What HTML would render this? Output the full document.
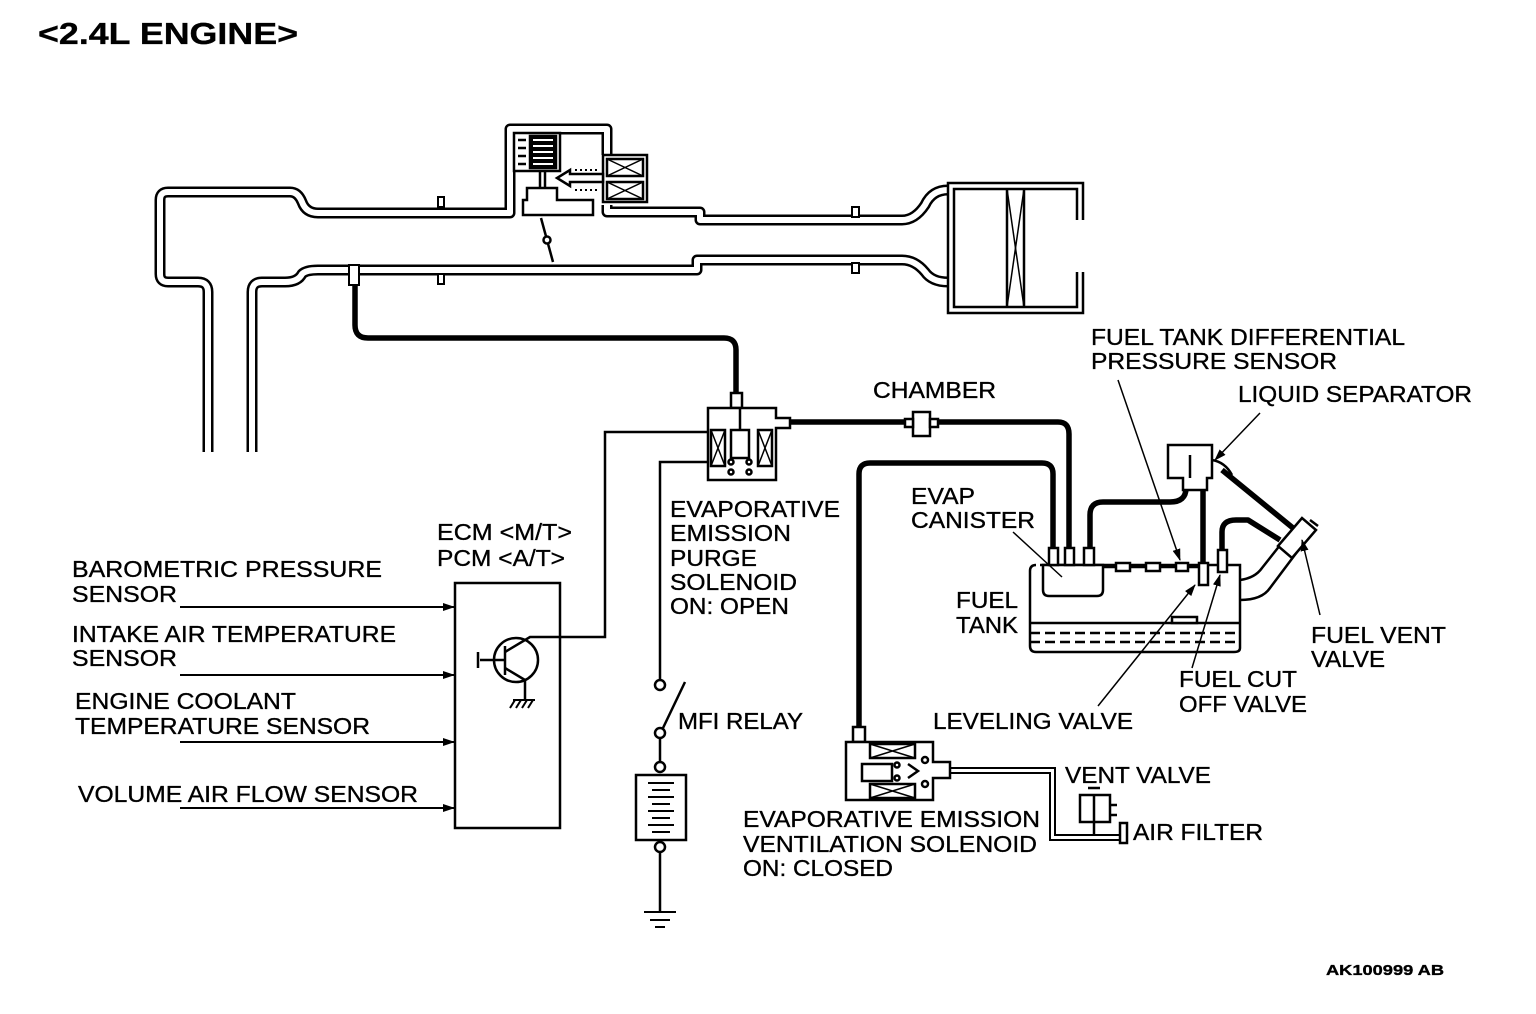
<!DOCTYPE html>
<html><head><meta charset="utf-8"><style>
html,body{margin:0;padding:0;background:#fff;}
svg{display:block;}
text{font-family:"Liberation Sans",Arial,sans-serif;font-size:23.5px;fill:#000;stroke:#000;stroke-width:0.35;}
</style></head><body>
<svg width="1536" height="1014" viewBox="0 0 1536 1014" xmlns="http://www.w3.org/2000/svg">
<defs>
<marker id="ah" markerWidth="12" markerHeight="8" refX="11" refY="4" orient="auto" markerUnits="userSpaceOnUse">
<path d="M0,0 L12,4 L0,8 z" fill="#000"/></marker>
</defs>
<text x="38" y="44" textLength="260" lengthAdjust="spacingAndGlyphs" style="font-size:31px;font-weight:bold">&lt;2.4L ENGINE&gt;</text>

<g fill="none" stroke-linejoin="round">
<g stroke="#000" stroke-width="11">
<path d="M208,452 L208,292 Q208,282 198,282 L168,282 Q160,282 160,274 L160,200 Q160,192 168,192 L290,192 Q298,192 302,202 Q306,213 318,213 L510,213 L510,129 L607,129 L607,155"/>
<path d="M607,205 L607,212 L700,212 L700,220 L902,220 Q915,220 925,205 Q932,190 948,190"/>
<path d="M252,452 L252,292 Q252,282 262,282 L285,282 Q298,282 302,274 Q306,270 318,270 L697,270 L697,260 L902,260 Q915,260 925,272 Q932,282 948,282"/>
</g>
<g stroke="#fff" stroke-width="6">
<path d="M208,452 L208,292 Q208,282 198,282 L168,282 Q160,282 160,274 L160,200 Q160,192 168,192 L290,192 Q298,192 302,202 Q306,213 318,213 L510,213 L510,129 L607,129 L607,155"/>
<path d="M607,205 L607,212 L700,212 L700,220 L902,220 Q915,220 925,205 Q932,190 948,190"/>
<path d="M252,452 L252,292 Q252,282 262,282 L285,282 Q298,282 302,274 Q306,270 318,270 L697,270 L697,260 L902,260 Q915,260 925,272 Q932,282 948,282"/>
</g>
</g>
<g stroke="#000" stroke-width="2" fill="#fff">
<rect x="438" y="197" width="6" height="10"/><rect x="438" y="274" width="6" height="10"/>
<rect x="852" y="207" width="7" height="10"/><rect x="852" y="263" width="7" height="10"/>
<rect x="349" y="265" width="10" height="20"/>
</g>
<g fill="none" stroke="#000" stroke-width="2.5">
<path d="M1083,220 L1083,183 L948,183 L948,313 L1083,313 L1083,272"/>
<path d="M1077,220 L1077,189 L954,189 L954,307 L1077,307 L1077,272"/>
<line x1="1007" y1="189" x2="1007" y2="307"/><line x1="1024" y1="189" x2="1024" y2="307"/>
<line x1="1007" y1="189" x2="1024" y2="307" stroke-width="1.5"/><line x1="1024" y1="189" x2="1007" y2="307" stroke-width="1.5"/>
</g>
<g stroke="#000" stroke-width="2.5" fill="#fff">
<rect x="514" y="133" width="46" height="38"/>
<path d="M530,136 L556,136 L556,168 L530,168 z" fill="#000"/>
<path d="M533,140 h20 M533,146 h20 M533,152 h20 M533,158 h20 M533,164 h20" stroke="#fff" stroke-width="2"/>
<line x1="518" y1="140" x2="526" y2="140"/><line x1="518" y1="148" x2="526" y2="148"/><line x1="518" y1="156" x2="526" y2="156"/><line x1="518" y1="164" x2="526" y2="164"/>
<line x1="540" y1="171" x2="540" y2="188"/><line x1="545" y1="171" x2="545" y2="188"/>
<path d="M527,188 L557,188 L557,200 L593,200 L593,215 L523,215 L523,200 L527,200 z"/>
<rect x="603" y="155" width="44" height="47"/>
<rect x="607" y="159" width="36" height="17"/><rect x="607" y="182" width="36" height="17"/>
<path d="M607,159 L643,176 M643,159 L607,176 M607,182 L643,199 M643,182 L607,199" stroke-width="1.5"/>
<path d="M603,174 L570,174 L570,170 L557,178 L570,186 L570,182 L603,182 z"/>
<line x1="541" y1="218" x2="553" y2="262"/>
<circle cx="547" cy="240" r="3.5"/>
</g>
<path d="M575,170 h25 M575,190 h25" stroke="#000" stroke-width="2" stroke-dasharray="2,3"/>

<g fill="none" stroke="#000" stroke-width="5.5" stroke-linejoin="round">
<path d="M355,285 L355,325 Q355,338 368,338 L724,338 Q736,338 736,350 L736,396"/>
<path d="M790,422 L905,422"/>
<path d="M935,422 L1058,422 Q1069,422 1069,434 L1069,548"/>
<path d="M1053,548 L1053,474 Q1053,463 1042,463 L870,463 Q859,463 859,474 L859,727"/>
<path d="M1090,548 L1090,515 Q1090,502 1103,502 L1170,502 Q1186,502 1186,488"/>
<path d="M1203,488 L1203,565"/>
<path d="M1222,552 L1222,532 Q1222,520 1236,520 L1248,520 L1280,540"/>
<path d="M1222,470 L1293,528"/>
</g>
<g stroke="#000" stroke-width="2.5" fill="#fff">
<rect x="731" y="393" width="11" height="15"/>
<path d="M708,408 L776,408 L776,418 L790,418 L790,428 L776,428 L776,480 L708,480 z"/>
<rect x="711" y="430" width="14" height="36"/><rect x="758" y="430" width="14" height="36"/>
<path d="M711,430 L725,466 M725,430 L711,466 M758,430 L772,466 M772,430 L758,466" stroke-width="1.5"/>
<rect x="731" y="430" width="18" height="28"/>
<line x1="740" y1="408" x2="740" y2="430"/>
<circle cx="731" cy="462" r="2.5"/><circle cx="749" cy="462" r="2.5"/><circle cx="731" cy="472" r="2.5"/><circle cx="749" cy="472" r="2.5"/>
<rect x="913" y="412" width="17" height="24"/><rect x="905" y="419" width="8" height="8"/><rect x="930" y="419" width="8" height="8"/>
</g>
<g fill="none" stroke="#000" stroke-width="2.5">
<rect x="455" y="583" width="105" height="245"/>
<circle cx="516" cy="660" r="22"/>
<line x1="505" y1="646" x2="505" y2="675"/><line x1="480" y1="660" x2="505" y2="660"/>
<line x1="478" y1="652" x2="478" y2="668"/>
<path d="M505,652 L530,637 L605,637 L605,432 L708,432"/>
<path d="M505,668 L525,680 L525,700"/>
<path d="M513,700 h22 M515,700 l-5,8 M521,700 l-5,8 M527,700 l-5,8 M533,700 l-5,8" stroke-width="2"/>
<path d="M708,462 L660,462 L660,680"/>
<circle cx="660" cy="685" r="5"/>
<line x1="663" y1="728" x2="685" y2="682"/>
<circle cx="660" cy="733" r="5"/>
<line x1="660" y1="738" x2="660" y2="762"/>
<circle cx="660" cy="767" r="5"/>
<rect x="636" y="775" width="50" height="65"/>
<path d="M648,783 h26 M652,790 h18 M648,797 h26 M652,804 h18 M648,811 h26 M652,818 h18 M648,825 h26 M652,832 h18" stroke-width="2"/>
<circle cx="660" cy="847" r="5"/>
<line x1="660" y1="852" x2="660" y2="912"/>
<path d="M644,912 h32 M650,920 h20 M655,927 h10" stroke-width="2"/>
</g>
<g stroke="#000" stroke-width="2" marker-end="url(#ah)">
<line x1="180" y1="607" x2="454" y2="607"/><line x1="180" y1="675" x2="454" y2="675"/>
<line x1="180" y1="742" x2="454" y2="742"/><line x1="180" y1="808" x2="454" y2="808"/>
</g>
<g fill="none" stroke="#000" stroke-width="2.5">
<path d="M1040,565 L1240,565 L1240,648 Q1240,652 1234,652 L1036,652 Q1030,652 1030,646 L1030,571 Q1030,565 1036,565"/>
<line x1="1030" y1="623" x2="1240" y2="623"/>
<line x1="1030" y1="633" x2="1240" y2="633" stroke-dasharray="10,5"/>
<line x1="1030" y1="642" x2="1240" y2="642" stroke-dasharray="10,5"/>
<rect x="1172" y="617" width="25" height="6" fill="#fff"/>
<path d="M1043,565 L1103,565 L1103,590 Q1103,596 1097,596 L1049,596 Q1043,596 1043,590 z" fill="#fff"/>
<rect x="1049" y="548" width="9" height="17" fill="#fff"/><rect x="1065" y="548" width="9" height="17" fill="#fff"/><rect x="1084" y="548" width="10" height="17" fill="#fff"/>
<line x1="1103" y1="567" x2="1200" y2="567"/>
<rect x="1116" y="563" width="14" height="8" fill="#fff"/><rect x="1146" y="563" width="14" height="8" fill="#fff"/><rect x="1176" y="563" width="12" height="8" fill="#fff"/>
<rect x="1199" y="563" width="9" height="22" fill="#fff"/><rect x="1218" y="550" width="9" height="22" fill="#fff"/>
<path d="M1168,445 L1212,445 L1212,478 L1207,478 L1207,490 L1183,490 L1183,478 L1168,478 z" fill="#fff"/>
<line x1="1190" y1="455" x2="1190" y2="478"/>
<path d="M1212,460 Q1225,462 1232,475"/>
<path d="M1240,580 Q1255,578 1262,568 L1292,530 M1240,600 Q1262,600 1270,588 L1300,548"/>
<path d="M1278,546 L1302,518 L1316,530 L1292,558 z" fill="#fff"/>
<line x1="1318" y1="526" x2="1310" y2="520"/>
</g>
<g fill="none" stroke="#000" stroke-width="2.5">
<rect x="853" y="727" width="12" height="15" fill="#fff"/>
<path d="M846,742 L933,742 L933,762 L950,762 L950,778 L933,778 L933,800 L846,800 z" fill="#fff"/>
<rect x="870" y="744" width="45" height="14"/><rect x="870" y="784" width="45" height="14"/>
<path d="M870,744 L915,758 M915,744 L870,758 M870,784 L915,798 M915,784 L870,798" stroke-width="1.5"/>
<rect x="862" y="764" width="30" height="17"/>
<path d="M908,764 L918,771 L908,778"/>
<circle cx="925" cy="760" r="3"/><circle cx="925" cy="784" r="3"/><circle cx="897" cy="765" r="2.5"/><circle cx="897" cy="778" r="2.5"/>
<path d="M950,768 L1055,768 L1055,835 L1120,835" stroke-width="2"/>
<path d="M950,773 L1050,773 L1050,840 L1120,840" stroke-width="2"/>
<rect x="1120" y="823" width="7" height="20" fill="#fff"/>
<path d="M1080,795 L1110,795 L1110,822 L1080,822 z"/>
<line x1="1094" y1="795" x2="1094" y2="835"/>
<path d="M1110,805 h7 M1110,815 h7 M1088,788 h12"/>
</g>
<g stroke="#000" stroke-width="1.5" fill="none">
<line x1="1118" y1="380" x2="1180" y2="560" marker-end="url(#ah)"/>
<line x1="1260" y1="413" x2="1215" y2="460" marker-end="url(#ah)"/>
<line x1="1013" y1="532" x2="1062" y2="577"/>
<line x1="1098" y1="706" x2="1195" y2="585" marker-end="url(#ah)"/>
<line x1="1192" y1="668" x2="1220" y2="575" marker-end="url(#ah)"/>
<line x1="1320" y1="615" x2="1302" y2="540" marker-end="url(#ah)"/>
</g>
<g lengthAdjust="spacingAndGlyphs">
<text x="72" y="577" textLength="310" lengthAdjust="spacingAndGlyphs">BAROMETRIC PRESSURE</text><text x="72" y="602" textLength="105" lengthAdjust="spacingAndGlyphs">SENSOR</text>
<text x="72" y="642" textLength="324" lengthAdjust="spacingAndGlyphs">INTAKE AIR TEMPERATURE</text><text x="72" y="666" textLength="105" lengthAdjust="spacingAndGlyphs">SENSOR</text>
<text x="75" y="709" textLength="221" lengthAdjust="spacingAndGlyphs">ENGINE COOLANT</text><text x="75" y="734" textLength="295" lengthAdjust="spacingAndGlyphs">TEMPERATURE SENSOR</text>
<text x="78" y="802" textLength="340" lengthAdjust="spacingAndGlyphs">VOLUME AIR FLOW SENSOR</text>
<text x="437" y="540" textLength="135" lengthAdjust="spacingAndGlyphs">ECM &lt;M/T&gt;</text><text x="437" y="566" textLength="128" lengthAdjust="spacingAndGlyphs">PCM &lt;A/T&gt;</text>
<text x="670" y="517" textLength="170" lengthAdjust="spacingAndGlyphs">EVAPORATIVE</text><text x="670" y="541" textLength="121" lengthAdjust="spacingAndGlyphs">EMISSION</text><text x="670" y="566" textLength="87" lengthAdjust="spacingAndGlyphs">PURGE</text><text x="670" y="590" textLength="127" lengthAdjust="spacingAndGlyphs">SOLENOID</text><text x="670" y="614" textLength="119" lengthAdjust="spacingAndGlyphs">ON: OPEN</text>
<text x="678" y="729" textLength="125" lengthAdjust="spacingAndGlyphs">MFI RELAY</text>
<text x="873" y="398" textLength="123" lengthAdjust="spacingAndGlyphs">CHAMBER</text>
<text x="1091" y="345" textLength="314" lengthAdjust="spacingAndGlyphs">FUEL TANK DIFFERENTIAL</text><text x="1091" y="369" textLength="246" lengthAdjust="spacingAndGlyphs">PRESSURE SENSOR</text>
<text x="1238" y="402" textLength="234" lengthAdjust="spacingAndGlyphs">LIQUID SEPARATOR</text>
<text x="911" y="504" textLength="64" lengthAdjust="spacingAndGlyphs">EVAP</text><text x="911" y="528" textLength="124" lengthAdjust="spacingAndGlyphs">CANISTER</text>
<text x="956" y="608" textLength="62" lengthAdjust="spacingAndGlyphs">FUEL</text><text x="956" y="633" textLength="62" lengthAdjust="spacingAndGlyphs">TANK</text>
<text x="1311" y="643" textLength="135" lengthAdjust="spacingAndGlyphs">FUEL VENT</text><text x="1311" y="667" textLength="74" lengthAdjust="spacingAndGlyphs">VALVE</text>
<text x="1179" y="687" textLength="118" lengthAdjust="spacingAndGlyphs">FUEL CUT</text><text x="1179" y="712" textLength="128" lengthAdjust="spacingAndGlyphs">OFF VALVE</text>
<text x="933" y="729" textLength="200" lengthAdjust="spacingAndGlyphs">LEVELING VALVE</text>
<text x="1065" y="783" textLength="146" lengthAdjust="spacingAndGlyphs">VENT VALVE</text>
<text x="1133" y="840" textLength="130" lengthAdjust="spacingAndGlyphs">AIR FILTER</text>
<text x="743" y="827" textLength="297" lengthAdjust="spacingAndGlyphs">EVAPORATIVE EMISSION</text><text x="743" y="852" textLength="294" lengthAdjust="spacingAndGlyphs">VENTILATION SOLENOID</text><text x="743" y="876" textLength="150" lengthAdjust="spacingAndGlyphs">ON: CLOSED</text>
<text x="1326" y="975" textLength="118" lengthAdjust="spacingAndGlyphs" style="font-size:15px;font-weight:bold">AK100999 AB</text>
</g>
</svg>
</body></html>
